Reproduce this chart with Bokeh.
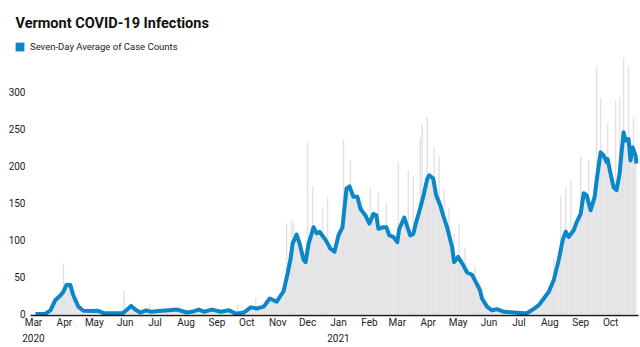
import pandas as pd
from bokeh.plotting import figure
from bokeh.models import FixedTicker, Legend, LegendItem, Range1d, Label
from bokeh.embed import file_html
from bokeh.resources import INLINE

# ---- data ----
avg_dates = [
    "2020-03-03", "2020-03-13", "2020-03-18", "2020-03-23", "2020-03-28", "2020-03-31",
    "2020-04-03", "2020-04-07", "2020-04-10", "2020-04-15", "2020-04-20", "2020-04-29",
    "2020-05-04", "2020-05-11", "2020-05-19", "2020-05-30", "2020-06-03", "2020-06-07",
    "2020-06-11", "2020-06-16", "2020-06-22", "2020-06-27", "2020-07-05", "2020-07-15",
    "2020-07-23", "2020-08-02", "2020-08-07", "2020-08-14", "2020-08-19", "2020-08-27",
    "2020-09-05", "2020-09-13", "2020-09-20", "2020-09-28", "2020-10-05", "2020-10-11",
    "2020-10-18", "2020-10-24", "2020-10-31", "2020-11-07", "2020-11-11", "2020-11-14",
    "2020-11-16", "2020-11-20", "2020-11-23", "2020-11-27", "2020-11-29", "2020-12-02",
    "2020-12-07", "2020-12-10", "2020-12-13", "2020-12-19", "2020-12-24", "2020-12-28",
    "2021-01-01", "2021-01-05", "2021-01-09", "2021-01-12", "2021-01-16", "2021-01-20",
    "2021-01-23", "2021-01-28", "2021-02-01", "2021-02-05", "2021-02-08", "2021-02-10",
    "2021-02-15", "2021-02-18", "2021-02-21", "2021-02-25", "2021-03-01", "2021-03-03",
    "2021-03-08", "2021-03-11", "2021-03-14", "2021-03-17", "2021-03-20", "2021-03-23",
    "2021-03-27", "2021-03-31", "2021-04-02", "2021-04-06", "2021-04-09", "2021-04-13",
    "2021-04-16", "2021-04-20", "2021-04-25", "2021-04-27", "2021-05-01", "2021-05-07",
    "2021-05-10", "2021-05-15", "2021-05-20", "2021-05-23", "2021-05-25", "2021-05-30",
    "2021-06-04", "2021-06-09", "2021-06-16", "2021-06-26", "2021-07-02", "2021-07-09",
    "2021-07-16", "2021-07-21", "2021-07-26", "2021-07-31", "2021-08-05", "2021-08-10",
    "2021-08-14", "2021-08-17", "2021-08-20", "2021-08-25", "2021-08-28", "2021-09-01",
    "2021-09-04", "2021-09-07", "2021-09-11", "2021-09-15", "2021-09-17", "2021-09-21",
    "2021-09-24", "2021-09-27", "2021-09-28", "2021-10-01", "2021-10-04", "2021-10-07",
    "2021-10-10", "2021-10-12", "2021-10-14", "2021-10-16", "2021-10-19", "2021-10-21",
    "2021-10-23", "2021-10-26", "2021-10-27",
]
avg_values = [
    0, 0.5, 5, 19, 25, 30,
    39, 39, 25, 10, 4.5, 4,
    4.5, 1, 1, 1.5, 6, 11,
    6, 2, 5, 3, 4, 5,
    6, 2, 3, 6, 3, 6,
    3, 5, 0.5, 2, 9, 7.5,
    10, 21, 16.5, 31, 55, 75,
    95, 107, 95, 73, 70, 95,
    117, 109, 111, 100, 88, 84,
    106, 117, 169, 172, 158, 158,
    142, 133, 122, 135, 133, 115,
    117, 117, 106, 104, 97, 115,
    130, 118, 106, 108, 124, 138,
    158, 182, 187, 183, 160, 147,
    133, 117, 90, 70, 77, 64,
    56, 53, 40, 32, 21, 10,
    5, 6.5, 3, 2, 1.5, 1,
    7, 12, 21, 30, 46, 73,
    100, 111, 104, 113, 124, 135,
    163, 160, 140, 158, 180, 218,
    214, 205, 209, 189, 171, 167,
    189, 218, 245, 234, 236, 207,
    225, 214, 203,
]

spike_dates = [
    "2020-03-31", "2020-05-31", "2020-06-26", "2020-07-26", "2020-09-22", "2020-10-10",
    "2020-11-10", "2020-11-15", "2020-11-17", "2020-12-01", "2020-12-06", "2020-12-16",
    "2020-12-21", "2021-01-06", "2021-01-13", "2021-01-25", "2021-02-02", "2021-02-10",
    "2021-02-18", "2021-03-02", "2021-03-12", "2021-03-17", "2021-03-24", "2021-03-26",
    "2021-03-31", "2021-04-07", "2021-04-12", "2021-04-17", "2021-04-22", "2021-04-27",
    "2021-05-02", "2021-05-08", "2021-05-18", "2021-05-23", "2021-08-05", "2021-08-12",
    "2021-08-17", "2021-08-22", "2021-09-01", "2021-09-09", "2021-09-17", "2021-09-21",
    "2021-09-28", "2021-10-06", "2021-10-10", "2021-10-14", "2021-10-19", "2021-10-24",
]
spike_values = [
    68, 32, 14, 12, 12, 22,
    122, 126, 122, 232, 172, 144,
    158, 234, 207, 153, 171, 163,
    150, 205, 194, 185, 238, 256,
    265, 225, 212, 167, 144, 109,
    122, 90, 64, 42, 75, 158,
    171, 180, 212, 207, 333, 292,
    256, 288, 292, 346, 333, 265,
]

month_ticks = [
    "2020-03-01", "2020-04-01", "2020-05-01", "2020-06-01", "2020-07-01", "2020-08-01",
    "2020-09-01", "2020-10-01", "2020-11-01", "2020-12-01", "2021-01-01", "2021-02-01",
    "2021-03-01", "2021-04-01", "2021-05-01", "2021-06-01", "2021-07-01", "2021-08-01",
    "2021-09-01", "2021-10-01",
]
month_labels = [
    "Mar\n2020", "Apr", "May", "Jun", "Jul", "Aug", "Sep", "Oct", "Nov", "Dec",
    "Jan\n2021", "Feb", "Mar", "Apr", "May", "Jun", "Jul", "Aug", "Sep", "Oct",
]
y_ticks = [0, 50, 100, 150, 200, 250, 300]

title_text = "Vermont COVID-19 Infections"
legend_text = "Seven-Day Average of Case Counts"

# ---- styling ----
FONT = "Roboto"
BLUE = "#0b87c9"

ad = pd.to_datetime(avg_dates)
sd = pd.to_datetime(spike_dates)

# ---- header (title + legend), its own root so that its frame starts at x=0 ----
head = figure(
    width=640, height=54, x_range=Range1d(0, 1), y_range=Range1d(0, 1),
    x_axis_location=None, y_axis_location=None,
    output_backend="svg", toolbar_location=None,
    min_border_left=0, min_border_right=0, min_border_top=0, min_border_bottom=0,
)
head.outline_line_color = None
head.grid.grid_line_color = None
head.border_fill_color = "white"
head.background_fill_color = "white"

head.add_layout(Label(
    x=15, y=31, x_units="screen", y_units="screen", text=title_text,
    text_font=FONT, text_font_style="bold", text_font_size="14.5px",
    text_color="#111111", text_baseline="alphabetic", text_align="left",
))
# swatch renderer for the legend entry; its one box lies outside the visible range
sw = head.quad(left=[-2], right=[-1], top=[-1], bottom=[-2], fill_color=BLUE, line_color=None)
legend = Legend(
    items=[LegendItem(label=legend_text, renderers=[sw])],
    location=(14, 2), orientation="vertical",
    glyph_width=11, glyph_height=11, label_height=11, label_width=10, label_standoff=5,
    padding=0, margin=0, spacing=0,
    border_line_color=None, background_fill_alpha=0,
    label_text_font=FONT, label_text_font_size="9.5px", label_text_color="#222222",
)
head.add_layout(legend)

# ---- main chart ----
p = figure(
    width=640, height=293, x_axis_type="datetime",
    x_range=Range1d(start=pd.Timestamp("2020-02-27"), end=pd.Timestamp("2021-10-29")),
    y_range=Range1d(start=-2, end=350),
    output_backend="svg", toolbar_location=None,
    min_border_left=30, min_border_right=2, min_border_top=0, min_border_bottom=31,
)
p.background_fill_color = "white"
p.border_fill_color = "white"
p.outline_line_color = None
p.grid.grid_line_color = None

p.varea(x=ad, y1=[0] * len(ad), y2=avg_values, fill_color="#e6e6e8")
p.segment(x0=sd, y0=[0] * len(sd), x1=sd, y1=spike_values,
          line_color="#e3e3e6", line_width=1.5)
p.line(ad, avg_values, line_color=BLUE, line_width=4, line_join="round")

tick_ms = [pd.Timestamp(t).value // 10**6 for t in month_ticks]
p.xaxis.ticker = FixedTicker(ticks=tick_ms)
p.xaxis.major_label_overrides = {float(t): lab for t, lab in zip(tick_ms, month_labels)}
p.xaxis.axis_line_color = "#1a1a1a"
p.xaxis.axis_line_width = 1.5
p.xaxis.major_tick_line_color = None
p.xaxis.minor_tick_line_color = None
p.xaxis.major_tick_out = 0
p.xaxis.major_tick_in = 0
p.xaxis.major_label_standoff = 1
p.xaxis.major_label_text_font = FONT
p.xaxis.major_label_text_font_size = "10px"
p.xaxis.major_label_text_line_height = 1.5
p.xaxis.major_label_text_color = "#222222"

p.yaxis.ticker = FixedTicker(ticks=y_ticks)
p.yaxis.axis_line_color = None
p.yaxis.major_tick_line_color = None
p.yaxis.minor_tick_line_color = None
p.yaxis.major_tick_out = 0
p.yaxis.major_tick_in = 0
p.yaxis.major_label_standoff = 5
p.yaxis.major_label_text_font = FONT
p.yaxis.major_label_text_font_size = "10px"
p.yaxis.major_label_text_color = "#222222"

open("out.html", "w").write(file_html([head, p], INLINE))
